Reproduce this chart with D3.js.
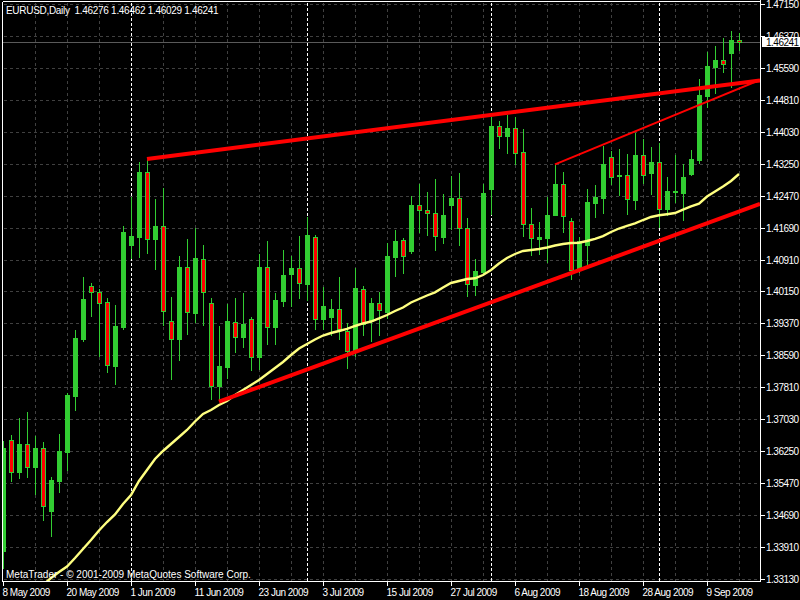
<!DOCTYPE html>
<html><head><meta charset="utf-8">
<script src="https://cdn.jsdelivr.net/npm/d3@7"></script>
<style>
html,body{margin:0;padding:0;background:#000;}
svg{display:block;}
text{font-family:"Liberation Sans",Arial,sans-serif;font-size:10px;fill:#fff;letter-spacing:-0.5px;white-space:pre;}
</style></head><body>
<svg id="chart" width="800" height="600"></svg>
<script>
const symbol = "EURUSD,Daily";
const firstDate = "2009-05-08";

const open = [
1.33824,1.36523,1.35757,1.36432,1.35879,1.36328,1.34807,1.35538,1.36245,1.37610,
1.38992,1.40284,1.40130,1.39886,1.38341,1.39292,1.41290,1.41478,1.43055,1.41437,
1.41739,1.39423,1.38999,1.40747,1.39633,1.40942,1.39862,1.37846,1.38317,1.39399,
1.39033,1.39472,1.38546,1.40740,1.39277,1.39925,1.40584,1.40715,1.40340,1.41471,
1.39472,1.39535,1.39716,1.39180,1.38724,1.40203,1.39455,1.39862,1.39650,1.40998,
1.41398,1.41144,1.42251,1.42129,1.42056,1.41485,1.42265,1.42421,1.41690,1.40315,
1.40632,1.42648,1.44176,1.43947,1.44128,1.43543,1.41788,1.41437,1.41461,1.42014,
1.42763,1.41861,1.40681,1.41290,1.42314,1.42429,1.43428,1.42965,1.42982,1.42387,
1.43477,1.43045,1.43306,1.42168,1.42568,1.42558,1.43021,1.43355,1.44915,1.45629,
1.45792,1.45970,1.46276];
const high = [
1.36506,1.36652,1.37066,1.37212,1.36627,1.36481,1.35628,1.36684,1.37676,1.39211,
1.40510,1.40364,1.40218,1.39984,1.39821,1.41746,1.42460,1.43306,1.43355,1.42397,
1.42665,1.40023,1.41015,1.41429,1.41697,1.41283,1.39991,1.39316,1.39852,1.39991,
1.40113,1.39528,1.41064,1.41381,1.40113,1.41161,1.41015,1.41502,1.41966,1.41527,
1.40259,1.39967,1.40496,1.39375,1.40722,1.40276,1.39991,1.40130,1.41325,1.41649,
1.41454,1.42477,1.42770,1.42575,1.42892,1.42526,1.42965,1.43038,1.41941,1.40942,
1.42770,1.44396,1.44298,1.44459,1.44403,1.44103,1.42178,1.41844,1.42446,1.43240,
1.43055,1.41934,1.41485,1.42648,1.42738,1.43696,1.43582,1.43623,1.43501,1.44006,
1.43867,1.43672,1.43769,1.42941,1.43477,1.43250,1.43599,1.45329,1.45995,1.46141,
1.46329,1.46499,1.46462];
const low = [
1.33403,1.35538,1.35611,1.35636,1.35221,1.34587,1.34197,1.35270,1.35799,1.37269,
1.38943,1.39560,1.38585,1.38195,1.37902,1.39236,1.40959,1.40998,1.41081,1.40691,
1.39326,1.38024,1.38487,1.39121,1.39406,1.39340,1.37537,1.37522,1.38049,1.38682,
1.38804,1.38236,1.38268,1.38877,1.38877,1.39804,1.39804,1.39999,1.39942,1.39243,
1.39243,1.39082,1.38985,1.38292,1.38577,1.39089,1.38943,1.39097,1.39504,1.40535,
1.40608,1.41081,1.41607,1.41534,1.41169,1.41339,1.41673,1.41290,1.40047,1.40072,
1.40576,1.42031,1.43655,1.43533,1.43265,1.41510,1.41039,1.41071,1.40861,1.42007,
1.41593,1.40447,1.40632,1.40820,1.41973,1.42070,1.42777,1.42509,1.42039,1.42168,
1.42802,1.42526,1.41729,1.42014,1.42339,1.41900,1.42997,1.43275,1.44654,1.44995,
1.45507,1.45142,1.46029];
const close = [
1.36342,1.35743,1.36432,1.35879,1.36335,1.34929,1.35555,1.36262,1.37627,1.39016,
1.39967,1.40130,1.39877,1.38351,1.39309,1.41607,1.41502,1.43062,1.41437,1.41746,
1.39667,1.38999,1.40747,1.39643,1.40966,1.40130,1.37846,1.38334,1.39431,1.39033,
1.39365,1.38546,1.40747,1.39277,1.39942,1.40545,1.40722,1.40350,1.41527,1.39472,
1.39789,1.39723,1.39228,1.38707,1.40228,1.39357,1.39862,1.39706,1.41015,1.41373,
1.41008,1.42251,1.42129,1.42056,1.41495,1.42007,1.42429,1.41705,1.40325,1.40649,
1.42551,1.44184,1.43947,1.44135,1.43518,1.41802,1.41446,1.41478,1.42007,1.42770,
1.41997,1.40681,1.41381,1.42331,1.42446,1.43265,1.42941,1.42989,1.42397,1.43477,
1.42997,1.43306,1.42168,1.42599,1.42607,1.42941,1.43379,1.44939,1.45654,1.45792,
1.45688,1.46280,1.46241];
const ma = [null,null,null,null,null,
1.32996,1.33166,1.33312,1.33447,1.33654,
1.33873,1.34092,1.34324,1.34531,1.34714,1.34970,1.35189,1.35531,1.35799,1.36067,
1.36262,1.36432,1.36603,1.36774,1.36981,1.37164,1.37261,1.37383,1.37481,1.37627,
1.37749,1.37871,1.37992,1.38139,1.38285,1.38431,1.38602,1.38760,1.38870,1.38980,
1.39077,1.39138,1.39187,1.39236,1.39309,1.39370,1.39418,1.39492,1.39577,1.39674,
1.39760,1.39882,1.39967,1.40052,1.40130,1.40247,1.40357,1.40406,1.40454,1.40471,
1.40552,1.40674,1.40832,1.40966,1.41064,1.41137,1.41161,1.41186,1.41222,1.41271,
1.41307,1.41332,1.41339,1.41381,1.41434,1.41498,1.41600,1.41685,1.41751,1.41810,
1.41892,1.41966,1.42009,1.42034,1.42063,1.42146,1.42222,1.42292,1.42465,1.42587,
1.42709,1.42843,1.43014];

const trendUpper = [[18, 1.43379], [94.625, 1.45293]];
const trendLower = [[27, 1.37464], [94.625, 1.42283]];
const trendThin  = [[69, 1.43250], [94.625, 1.45305]];

const priceTicks = [1.47150,1.46370,1.45590,1.44810,1.44030,1.43250,1.42470,1.41690,1.40910,
  1.40150,1.39370,1.38590,1.37810,1.37030,1.36250,1.35470,1.34690,1.33910,1.33130];
const dateLabels = ["8 May 2009","20 May 2009","1 Jun 2009","11 Jun 2009","23 Jun 2009","3 Jul 2009",
  "15 Jul 2009","27 Jul 2009","6 Aug 2009","18 Aug 2009","28 Aug 2009","9 Sep 2009"];
const dateLabelStep = 8;
const watermark = "MetaTrader - \u00A9 2001-2009 MetaQuotes Software Corp.";

// trading dates (weekdays) for the category axis
const n = close.length;
const dates = [];
{
  let d = new Date(firstDate + "T12:00:00");
  while (dates.length < n) {
    const wd = d.getDay();
    if (wd !== 0 && wd !== 6) dates.push(new Date(d));
    d.setDate(d.getDate() + 1);
  }
}
const monthStarts = dates.map((d,i)=> i>0 && d.getMonth() !== dates[i-1].getMonth() ? i : -1).filter(i=>i>0);

const svg = d3.select("#chart");
svg.append("rect").attr("width",800).attr("height",600).attr("fill","#000");

const L = 2.5, T = 1.5, R = 760.5, B = 581.5;
const x = d3.scaleLinear().domain([0, n-1]).range([3, 739]);
const y = d3.scaleLinear().domain([1.3311, 1.4715]).range([580.3, 4.3]);

svg.append("clipPath").attr("id","plot").append("rect")
  .attr("x", L+0.5).attr("y", T+0.5).attr("width", R-L-1).attr("height", B-T-1);

const gridG = svg.append("g").attr("shape-rendering","crispEdges");
priceTicks.forEach(v=>{
  const yy = Math.round(y(v)) + 0.5;
  gridG.append("line").attr("x1",L+1).attr("x2",R).attr("y1",yy).attr("y2",yy)
    .attr("stroke","#404040").attr("stroke-dasharray","3,3");
});
d3.range(4, n, 4).forEach(i=>{
  const xx = x(i) + 0.5;
  if (monthStarts.includes(i)) return;
  gridG.append("line").attr("x1",xx).attr("x2",xx).attr("y1",T+1).attr("y2",B)
    .attr("stroke","#404040").attr("stroke-dasharray","3,3");
});
monthStarts.forEach(i=>{
  const xx = x(i) + 0.5;
  gridG.append("line").attr("x1",xx).attr("x2",xx).attr("y1",T+1).attr("y2",B)
    .attr("stroke","#ffffff").attr("stroke-dasharray","3,2");
});

const plot = svg.append("g").attr("clip-path","url(#plot)");

// current price line
const lastClose = close[n-1];
const yLast = Math.round(y(lastClose)) + 0.5;
plot.append("line").attr("x1",L).attr("x2",R).attr("y1",yLast).attr("y2",yLast)
  .attr("stroke","#5a5a5a").attr("shape-rendering","crispEdges");

// candles
const GREEN = "#32cd32", RED = "#ff0000";
const cg = plot.append("g").attr("shape-rendering","crispEdges");
for (let i=0;i<n;i++){
  const cx = x(i);
  cg.append("line").attr("x1",cx+0.5).attr("x2",cx+0.5)
    .attr("y1",Math.round(y(high[i]))).attr("y2",Math.round(y(low[i]))+1)
    .attr("stroke",GREEN);
  const top = Math.round(y(Math.max(open[i],close[i])));
  const bot = Math.round(y(Math.min(open[i],close[i])));
  const h = Math.max(1, bot-top+1);
  cg.append("rect").attr("x",cx-2).attr("y",top).attr("width",5).attr("height",h).attr("fill",GREEN);
  if (close[i] < open[i] && h > 2) {
    cg.append("rect").attr("x",cx-1).attr("y",top+1).attr("width",3).attr("height",h-2).attr("fill",RED);
  }
}

// moving average
const maLine = d3.line().defined(d=>d!=null).x((d,i)=>x(i)).y(d=>y(d));
plot.append("path").datum(ma).attr("d",maLine).attr("fill","none")
  .attr("stroke","#ffff80").attr("stroke-width",2.4);

// trend lines
const tl = d3.line().x(d=>x(d[0])).y(d=>y(d[1]));
plot.append("path").datum(trendUpper).attr("d",tl).attr("stroke",RED).attr("stroke-width",4).attr("fill","none");
plot.append("path").datum(trendLower).attr("d",tl).attr("stroke",RED).attr("stroke-width",4).attr("fill","none");
plot.append("path").datum(trendThin).attr("d",tl).attr("stroke",RED).attr("stroke-width",2).attr("fill","none");

// frame
const fr = svg.append("g").attr("shape-rendering","crispEdges").attr("stroke","#fff");
fr.append("line").attr("x1",L).attr("x2",R).attr("y1",T).attr("y2",T);
fr.append("line").attr("x1",L).attr("x2",L).attr("y1",T).attr("y2",B);
fr.append("line").attr("x1",L).attr("x2",R).attr("y1",B).attr("y2",B);
fr.append("line").attr("x1",R).attr("x2",R).attr("y1",0).attr("y2",B);

// right axis
priceTicks.forEach(v=>{
  const yy = Math.round(y(v)) + 0.5;
  fr.append("line").attr("x1",R).attr("x2",R+4).attr("y1",yy).attr("y2",yy);
  svg.append("text").attr("x",766).attr("y",yy).attr("dy","0.36em").text(v.toFixed(5));
});
// current price box
svg.append("rect").attr("x",762).attr("y",Math.round(y(lastClose))-5).attr("width",38).attr("height",10).attr("fill","#fff");
svg.append("text").attr("x",766).attr("y",Math.round(y(lastClose))).attr("dy","0.36em")
  .style("fill","#000").text(lastClose.toFixed(5));

// bottom axis
dateLabels.forEach((lab,k)=>{
  const xx = x(k*dateLabelStep) + 0.5;
  fr.append("line").attr("x1",xx).attr("x2",xx).attr("y1",B).attr("y2",B+4);
  svg.append("text").attr("x",xx-1).attr("y",596).text(lab);
});

// title & watermark
svg.append("text").attr("x",6).attr("y",14).style("letter-spacing","-0.3px")
  .text(`${symbol}  ${open[n-1].toFixed(5)} ${high[n-1].toFixed(5)} ${low[n-1].toFixed(5)} ${close[n-1].toFixed(5)}`);
svg.append("text").attr("x",6).attr("y",578).style("letter-spacing","0px").text(watermark);
</script>
</body></html>
